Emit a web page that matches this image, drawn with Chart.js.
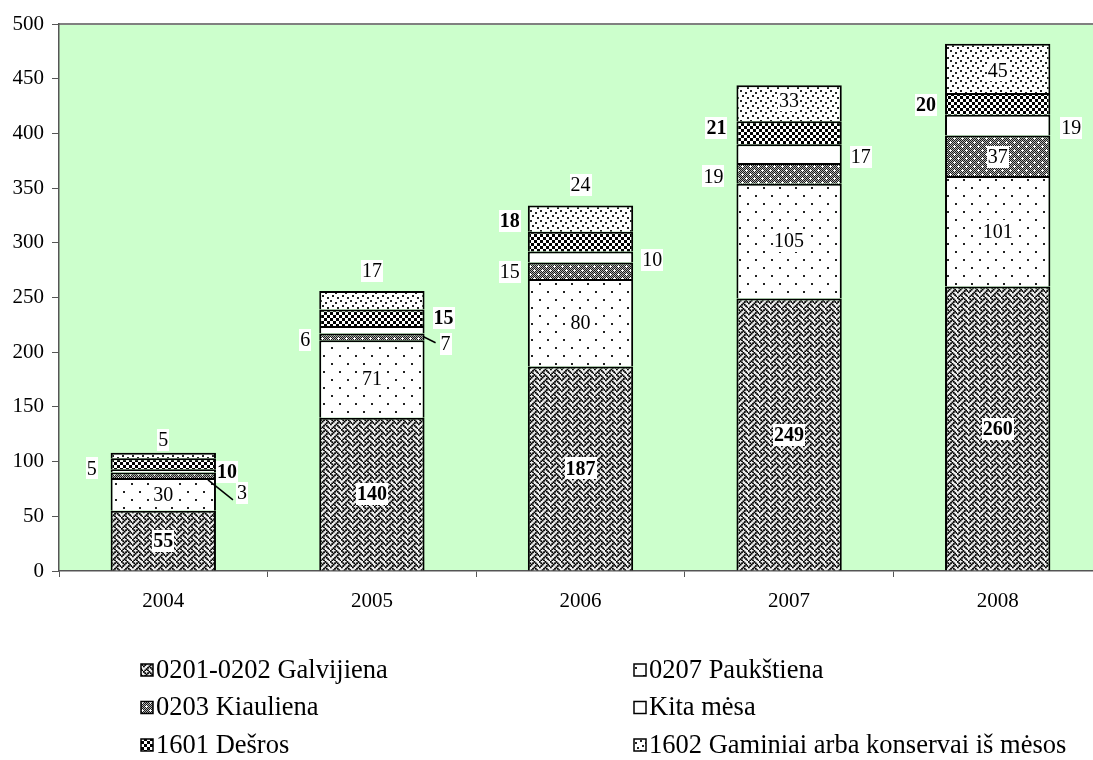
<!DOCTYPE html>
<html><head><meta charset="utf-8">
<script src="https://cdn.jsdelivr.net/npm/chart.js@4/dist/chart.umd.min.js"></script>
<style>html,body{margin:0;padding:0;overflow:hidden;background:#fff;width:1093px;height:760px}canvas{display:block}</style>
</head><body>
<canvas id="c" width="1102" height="760"></canvas>
<script>
// ---- data ----
const categories = ['2004', '2005', '2006', '2007', '2008'];
const galvijiena = [55, 140, 187, 249, 260];
const paukstiena = [30, 71, 80, 105, 101];
const kiauliena  = [5, 6, 15, 19, 37];
const kitaMesa   = [3, 7, 10, 17, 19];
const desros     = [10, 15, 18, 21, 20];
const gaminiai   = [5, 17, 24, 33, 45];
const seriesNames = ['0201-0202 Galvijiena', '0207 Paukštiena', '0203 Kiauliena', 'Kita mėsa', '1601 Dešros', '1602 Gaminiai arba konservai iš mėsos'];
const yMin = 0, yMax = 500, yStep = 50;

// ---- label layout (pos, gap, dy, leader) ----
const boldSeries = [true, false, false, false, true, false];
const LAYOUT = [
  [['c',0,0],['c',0,0],['c',0,0],['c',0,0],['c',0,0]],
  [['c',0,0],['c',0,0],['c',0,0],['c',0,0],['c',0,0]],
  [['l',14,-7],['l',9,3],['l',8,1],['l',13,3],['c',0,1]],
  [['r',21,22,[-8,9,17,29]],['r',16,14,[-1,7,11,13]],['r',9,3],['r',9,3],['r',11,3]],
  [['r',1,8],['r',9,0],['l',8,-21],['l',10,-5],['l',9,1]],
  [['t',0,13],['t',0,20],['t',0,21],['c',0,-3],['c',0,2]]
];

const FONT = 'Liberation Serif, "Times New Roman", serif';
const canvas = document.getElementById('c');
const ctx0 = canvas.getContext('2d');

function tile(w, h, draw) {
  const c = document.createElement('canvas'); c.width = w; c.height = h;
  const g = c.getContext('2d'); draw(g, w, h);
  return ctx0.createPattern(c, 'repeat');
}
const WEAVE = [0x88,0x54,0x22,0x45,0x88,0x14,0x22,0x51];
const patWeave = tile(11, 11, (g) => {
  g.fillStyle = '#f0f0f0'; g.fillRect(0,0,11,11);
  const s = 11/8; g.fillStyle = '#000';
  for (let r=0;r<8;r++) for (let c=0;c<8;c++) if ((WEAVE[r]>>(7-c))&1) g.fillRect(c*s, r*s, s*1.3, s*1.3);
});
const patSparse = tile(16, 16, (g) => {
  g.fillStyle = '#fff'; g.fillRect(0,0,16,16);
  g.fillStyle = '#222'; g.fillRect(3,3,2,2); g.fillRect(11,11,2,2);
});
const patGrayCross = tile(8, 8, (g) => {
  g.fillStyle = '#fff'; g.fillRect(0,0,8,8);
  g.fillStyle = '#1a1a1a';
  for (let y=0;y<8;y++) for (let x=0;x<8;x++) if ((x+y)%2===0) g.fillRect(x,y,1,1);
  g.fillStyle = '#b0b0b0';
  for (let y=0;y<8;y++) for (let x=0;x<8;x++) if ((x+y)%2===1) g.fillRect(x,y,1,1);
  g.fillStyle = '#fff';
  [[2,2],[6,6]].forEach(([x,y]) => { g.fillRect(x,y,1,1); g.fillRect(x-1,y,1,1); g.fillRect(x+1,y,1,1); g.fillRect(x,y-1,1,1); g.fillRect(x,y+1,1,1); });
});
const patWhite = '#ffffff';
const patChecker = tile(6, 6, (g) => {
  g.fillStyle = '#fff'; g.fillRect(0,0,6,6);
  g.fillStyle = '#000'; g.fillRect(0,0,3,3); g.fillRect(3,3,3,3);
});
const patDense = tile(10, 10, (g) => {
  g.fillStyle = '#fff'; g.fillRect(0,0,10,10);
  g.fillStyle = '#222';
  [[0,0],[5,2],[2,5],[7,7]].forEach(([x,y]) => g.fillRect(x,y,2,2));
});
const fills = [patWeave, patSparse, patGrayCross, patWhite, patChecker, patDense];
const seriesData = [galvijiena, paukstiena, kiauliena, kitaMesa, desros, gaminiai];

const bgPlugin = {
  id: 'bg',
  beforeDraw(chart) {
    const {ctx, chartArea: a} = chart;
    ctx.save();
    ctx.fillStyle = '#CCFFCC';
    ctx.fillRect(a.left, a.top, a.right - a.left, a.bottom - a.top);
    ctx.strokeStyle = '#808080'; ctx.lineWidth = 2;
    ctx.beginPath(); ctx.moveTo(a.left, a.top); ctx.lineTo(a.right, a.top); ctx.stroke();
    ctx.restore();
  }
};

const labelPlugin = {
  id: 'lbl',
  afterDatasetsDraw(chart) {
    const ctx = chart.ctx;
    ctx.save();
    chart.data.datasets.forEach((ds, i) => {
      const meta = chart.getDatasetMeta(i);
      meta.data.forEach((el, j) => {
        const p = el.getProps(['x','y','base','width'], true);
        const [pos, gap, dy, leader] = LAYOUT[i][j];
        const txt = String(ds.data[j]);
        ctx.font = (boldSeries[i] ? 'bold ' : '') + '20px ' + FONT;
        const w = ctx.measureText(txt).width;
        const segC = (p.y + p.base) / 2;
        const left = p.x - p.width/2, right = p.x + p.width/2;
        let cx, cy;
        if (pos === 'c') { cx = p.x; cy = segC + dy; }
        else if (pos === 'l') { cx = left - gap - w/2; cy = segC + dy; }
        else if (pos === 'r') { cx = right + gap + w/2; cy = segC + dy; }
        else { cx = p.x; cy = p.y - dy; }
        if (leader) {
          ctx.strokeStyle = '#000'; ctx.lineWidth = 1.5;
          ctx.beginPath();
          ctx.moveTo(right + leader[0], segC + leader[1]);
          ctx.lineTo(right + leader[2], segC + leader[3]);
          ctx.stroke();
        }
        ctx.fillStyle = '#fff';
        ctx.fillRect(Math.round(cx - w/2 - 1), Math.round(cy - 11), Math.round(w + 2), 22);
        ctx.fillStyle = '#000';
        ctx.textAlign = 'center'; ctx.textBaseline = 'middle';
        ctx.fillText(txt, cx, cy + 1);
      });
    });
    ctx.restore();
  }
};

const legendPlugin = {
  id: 'leg',
  afterDraw(chart) {
    const ctx = chart.ctx;
    ctx.save();
    const colX = [141, 634], rowY = [670, 707.5, 745];
    ctx.font = '26.5px ' + FONT;
    ctx.textBaseline = 'middle'; ctx.textAlign = 'left';
    chart.data.datasets.forEach((ds, i) => {
      const x = colX[i % 2], y = rowY[Math.floor(i / 2)];
      ctx.fillStyle = fills[i];
      ctx.fillRect(x, y - 6, 12, 12);
      ctx.strokeStyle = '#000'; ctx.lineWidth = 1.5;
      ctx.strokeRect(x, y - 6, 12, 12);
      ctx.fillStyle = '#000';
      ctx.fillText(ds.label, x + 15, y + 1);
    });
    ctx.restore();
  }
};

new Chart(canvas, {
  type: 'bar',
  data: {
    labels: categories,
    datasets: seriesData.map((d, i) => ({
      label: seriesNames[i],
      data: d,
      backgroundColor: fills[i],
      borderColor: '#000',
      borderWidth: 2,
      borderSkipped: 'start',
      categoryPercentage: 1,
      barPercentage: 0.505
    }))
  },
  options: {
    responsive: false,
    animation: false,
    devicePixelRatio: 1,
    layout: { padding: { top: 24, left: 0, right: 0, bottom: 0 } },
    plugins: { legend: { display: false }, tooltip: { enabled: false } },
    scales: {
      x: {
        stacked: true, offset: true,
        ticks: { color: '#000', font: { family: FONT, size: 21 }, padding: 12 },
        grid: { offset: true, drawOnChartArea: false, tickLength: 6, color: '#555' },
        border: { color: '#555', width: 1.5 },
        afterFit(s) { s.height = 189; }
      },
      y: {
        stacked: true, min: yMin, max: yMax,
        ticks: { stepSize: yStep, color: '#000', font: { family: FONT, size: 21 }, padding: 8 },
        grid: { drawOnChartArea: false, tickLength: 7, color: '#555' },
        border: { color: '#555', width: 1.5 },
        afterFit(s) { s.width = 59; }
      }
    }
  },
  plugins: [bgPlugin, labelPlugin, legendPlugin]
});
</script>
</body></html>
